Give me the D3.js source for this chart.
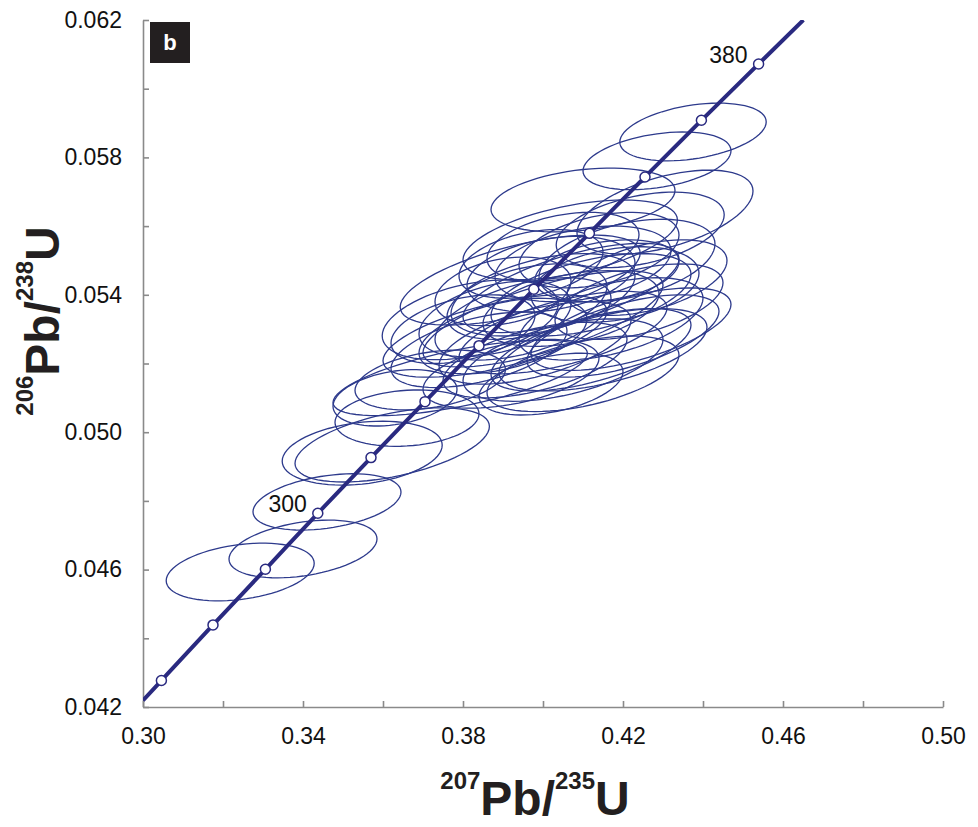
<!DOCTYPE html>
<html>
<head>
<meta charset="utf-8">
<script src="https://cdn.jsdelivr.net/npm/d3@7"></script>
<style>
  html, body { margin: 0; padding: 0; background: #fff; }
  svg { display: block; }
  .tick text { font-family: "Liberation Sans", Arial, Helvetica, sans-serif; font-size: 23px; fill: #111; }
  .axis path, .axis line { stroke: #8a8a8a; stroke-width: 1.6; }
  .ellipse { fill: none; stroke: #2d3a8c; stroke-width: 1.3; }
  .concordia { fill: none; stroke: #2a2a80; stroke-width: 4; }
  .age-dot { fill: #fff; stroke: #2a2a80; stroke-width: 1.5; }
  .age-label { font-family: "Liberation Sans", Arial, sans-serif; font-size: 23px; fill: #111; }
  .title { font-family: "Liberation Sans", Arial, Helvetica, sans-serif; font-weight: bold; fill: #231f20; }
</style>
</head>
<body>
<svg id="chart" width="978" height="827"></svg>
<script>
// axis ticks
const xTicks = [0.30, 0.32, 0.34, 0.36, 0.38, 0.40, 0.42, 0.44, 0.46, 0.48, 0.50];
const xLabels = [0.30, 0.34, 0.38, 0.42, 0.46, 0.50];
const yTicks = [0.042, 0.044, 0.046, 0.048, 0.050, 0.052, 0.054, 0.056, 0.058, 0.060, 0.062];
const yLabels = [0.042, 0.046, 0.050, 0.054, 0.058, 0.062];

// concordia curve vertices (207Pb/235U, 206Pb/238U)
const curveX = [0.3000, 0.3046, 0.3175, 0.3306, 0.3437, 0.3570, 0.3705, 0.3840, 0.3977, 0.4116, 0.4255, 0.4396, 0.4539, 0.4651];
const curveY = [0.04219, 0.04277, 0.04439, 0.04601, 0.04764, 0.04926, 0.05089, 0.05252, 0.05416, 0.05579, 0.05743, 0.05908, 0.06072, 0.06200];

// age markers on the concordia (Ma)
const markerAges = [270, 280, 290, 300, 310, 320, 330, 340, 350, 360, 370, 380];
const markerX = [0.3046, 0.3175, 0.3306, 0.3437, 0.3570, 0.3705, 0.3840, 0.3977, 0.4116, 0.4255, 0.4396, 0.4539];
const markerY = [0.04277, 0.04439, 0.04601, 0.04764, 0.04926, 0.05089, 0.05252, 0.05416, 0.05579, 0.05743, 0.05908, 0.06072];
const labelledAges = [300, 380];

// error ellipses: centre, half-width in x and y, correlation
const ellX = [0.3243, 0.3400, 0.3460, 0.3548, 0.3623, 0.3660, 0.3630, 0.3718,
  0.4375, 0.4285, 0.4100, 0.4305, 0.4243, 0.4068, 0.3943, 0.3818, 0.3793,
  0.395, 0.400, 0.407, 0.412, 0.390, 0.384, 0.398, 0.405, 0.417, 0.418,
  0.424, 0.396, 0.388, 0.402, 0.410, 0.398, 0.412, 0.380, 0.426, 0.414,
  0.405, 0.397, 0.420, 0.392, 0.407, 0.400, 0.416, 0.390, 0.421, 0.402,
  0.405, 0.415, 0.388, 0.422, 0.410];
const ellY = [0.04593, 0.04660, 0.04797, 0.04939, 0.04963, 0.05041, 0.05100, 0.05152,
  0.05874, 0.05790, 0.05676, 0.05641, 0.05589, 0.05560, 0.05443, 0.05327, 0.05158,
  0.0533, 0.0540, 0.0536, 0.0540, 0.0528, 0.0524, 0.0526, 0.0529, 0.0533, 0.0543,
  0.0538, 0.0538, 0.0533, 0.0546, 0.0549, 0.0521, 0.0524, 0.0530, 0.0545, 0.0553,
  0.0554, 0.0549, 0.0528, 0.0517, 0.0542, 0.0533, 0.0547, 0.0541, 0.0550, 0.0514,
  0.0521, 0.0524, 0.0528, 0.0530, 0.0517];
const ellSx = [0.0185, 0.0185, 0.0185, 0.0200, 0.0243, 0.0180, 0.0155, 0.0188,
  0.0183, 0.0185, 0.0230, 0.0220, 0.0210, 0.0268, 0.0300, 0.0220, 0.0318,
  0.022, 0.023, 0.022, 0.025, 0.021, 0.022, 0.024, 0.026, 0.023, 0.021,
  0.021, 0.020, 0.019, 0.021, 0.022, 0.023, 0.025, 0.018, 0.020, 0.020,
  0.019, 0.018, 0.024, 0.022, 0.027, 0.030, 0.018, 0.017, 0.022, 0.018,
  0.025, 0.026, 0.028, 0.025, 0.024];
const ellSy = [0.00084, 0.00084, 0.00082, 0.00093, 0.00108, 0.00082, 0.00082, 0.00087,
  0.00084, 0.00084, 0.00093, 0.00122, 0.00110, 0.00116, 0.00131, 0.00116, 0.00110,
  0.0012, 0.0012, 0.0011, 0.0012, 0.0011, 0.0011, 0.0012, 0.0012, 0.0012, 0.0011,
  0.0011, 0.0011, 0.0011, 0.0011, 0.0011, 0.0011, 0.0012, 0.0010, 0.0011, 0.0011,
  0.0010, 0.0010, 0.0012, 0.0010, 0.0013, 0.0014, 0.0009, 0.0010, 0.0012, 0.0009,
  0.0012, 0.0012, 0.0012, 0.0012, 0.0011];
const ellRho = [0.30, 0.35, 0.35, 0.25, 0.50, 0.15, 0.30, 0.35,
  0.35, 0.35, 0.30, 0.50, 0.40, 0.50, 0.60, 0.40, 0.65,
  0.50, 0.45, 0.40, 0.50, 0.45, 0.50, 0.55, 0.60, 0.50, 0.30,
  0.50, 0.40, 0.40, 0.30, 0.35, 0.55, 0.60, 0.40, 0.45, 0.40,
  0.35, 0.35, 0.60, 0.45, 0.65, 0.70, 0.30, 0.30, 0.40, 0.40,
  0.50, 0.55, 0.60, 0.60, 0.50];

const svg = d3.select("#chart");

const x = d3.scaleLinear().domain([0.30, 0.50]).range([143, 943]);
const y = d3.scaleLinear().domain([0.042, 0.062]).range([707, 20]);

svg.append("defs").append("clipPath").attr("id", "plot-clip")
  .append("rect")
  .attr("x", x(0.30)).attr("y", y(0.062))
  .attr("width", x(0.50) - x(0.30)).attr("height", y(0.042) - y(0.062));

// axes
const xAxis = d3.axisBottom(x)
  .tickValues(xTicks)
  .tickSize(-6)
  .tickSizeOuter(0)
  .tickPadding(21)
  .tickFormat((d) => xLabels.some((v) => Math.abs(v - d) < 1e-9) ? d3.format(".2f")(d) : "");

svg.append("g")
  .attr("class", "axis")
  .attr("transform", `translate(0,${y(0.042)})`)
  .call(xAxis);

const yAxis = d3.axisLeft(y)
  .tickValues(yTicks)
  .tickSize(-6)
  .tickSizeOuter(0)
  .tickPadding(21)
  .tickFormat((d) => yLabels.some((v) => Math.abs(v - d) < 1e-9) ? d3.format(".3f")(d) : "");

svg.append("g")
  .attr("class", "axis")
  .attr("transform", `translate(${x(0.30)},0)`)
  .call(yAxis);

// error ellipses
const ellipseLine = d3.line().curve(d3.curveLinearClosed);
const steps = d3.range(0, 72).map((i) => (i / 72) * 2 * Math.PI);

const ellipses = ellX.map((cx, i) => ({ cx, cy: ellY[i], sx: ellSx[i], sy: ellSy[i], rho: ellRho[i] }));

const plot = svg.append("g").attr("clip-path", "url(#plot-clip)");

plot.selectAll("path.ellipse")
  .data(ellipses)
  .join("path")
  .attr("class", "ellipse")
  .attr("d", (e) => {
    const k = Math.sqrt(1 - e.rho * e.rho);
    return ellipseLine(steps.map((t) => [
      x(e.cx + e.sx * Math.cos(t)),
      y(e.cy + e.sy * (e.rho * Math.cos(t) + k * Math.sin(t)))
    ]));
  });

// concordia
const concordiaLine = d3.line()
  .x((d) => x(d[0]))
  .y((d) => y(d[1]))
  .curve(d3.curveMonotoneX);

plot.append("path")
  .datum(curveX.map((v, i) => [v, curveY[i]]))
  .attr("class", "concordia")
  .attr("d", concordiaLine);

const markers = markerAges.map((age, i) => ({ age, x: markerX[i], y: markerY[i] }));

svg.selectAll("circle.age-dot")
  .data(markers)
  .join("circle")
  .attr("class", "age-dot")
  .attr("cx", (d) => x(d.x))
  .attr("cy", (d) => y(d.y))
  .attr("r", 5);

svg.selectAll("text.age-label")
  .data(markers.filter((d) => labelledAges.includes(d.age)))
  .join("text")
  .attr("class", "age-label")
  .attr("x", (d) => x(d.x) - 11)
  .attr("y", (d) => y(d.y) - 1)
  .attr("text-anchor", "end")
  .text((d) => d.age);

// panel label
svg.append("rect").attr("x", 150).attr("y", 22).attr("width", 40).attr("height", 41).attr("fill", "#231f20");
svg.append("text")
  .attr("x", 170).attr("y", 50)
  .attr("text-anchor", "middle")
  .attr("font-family", "Liberation Sans, Arial, sans-serif")
  .attr("font-weight", "bold")
  .attr("font-size", 22)
  .attr("fill", "#fff")
  .text("b");

// axis titles
function isotopeTitle(g, mass1, el1, mass2, el2) {
  const t = g.append("text").attr("class", "title");
  t.append("tspan").attr("font-size", 24).attr("dy", -26).text(mass1);
  t.append("tspan").attr("font-size", 48).attr("dy", 26).text(el1 + "/");
  t.append("tspan").attr("font-size", 24).attr("dy", -26).text(mass2);
  t.append("tspan").attr("font-size", 48).attr("dy", 26).text(el2);
  return t;
}

const xTitle = isotopeTitle(svg.append("g").attr("transform", "translate(535,815)"), "207", "Pb", "235", "U");
xTitle.attr("text-anchor", "middle");

const yTitle = isotopeTitle(svg.append("g").attr("transform", "translate(59,321) rotate(-90)"), "206", "Pb", "238", "U");
yTitle.attr("text-anchor", "middle");
</script>
</body>
</html>
